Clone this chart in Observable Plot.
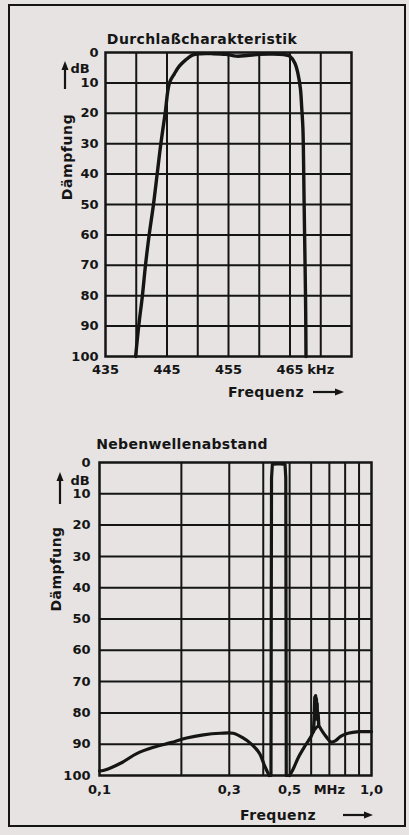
<!DOCTYPE html>
<html><head><meta charset="utf-8">
<script src="https://cdn.jsdelivr.net/npm/d3@7"></script>
<script src="https://cdn.jsdelivr.net/npm/@observablehq/plot@0.6"></script>
<style>
html,body{margin:0;padding:0;background:#e6e3e2;}
#page{position:relative;width:409px;height:835px;overflow:hidden;font-family:"DejaVu Sans",sans-serif;font-weight:bold;color:#151515;}
#border{position:absolute;left:8px;top:4px;width:398px;height:823px;border:2.5px solid #151515;box-sizing:border-box;}
.t{position:absolute;white-space:nowrap;line-height:1;transform:translate(-50%,-50%);}
.plot{position:absolute;left:0;}
svg.deco{position:absolute;left:0;top:0;overflow:visible;}
</style>
</head><body>
<div id="page">
<div id="border"></div>
</div>
<script>
// ---------- Data: Durchlaßcharakteristik (top) ----------
const topFreq = [439.9, 440.4, 441.0, 441.5, 442.1, 442.8, 443.4, 444.0, 444.7, 445.4, 446.2, 447.0, 448.0, 449.2, 450.5, 452.5, 454.5, 456.3, 458.0, 460.0, 462.0, 464.0, 465.0, 465.8, 466.3, 466.7, 466.9, 467.1, 467.2, 467.3, 467.45, 467.55, 467.6];
const topDb   = [100,   90,    80,    70,    60,    50,    40,    30,    20,    10,    7,     4.5,   2.5,   0.8,   0.4,   0.4,   0.6,   1.2,   1.0,   0.6,   0.5,   0.7,   1.3,   3.5,   7,     12,    18,    25,    35,    50,    70,    85,    100];
const topXGrid = [440, 445, 450, 455, 460, 465, 470];
const topXTicks = [435, 445, 455, 465, 470];
const topXLabels = ["435", "445", "455", "465", "kHz"];

// ---------- Data: Nebenwellenabstand (bottom) ----------
const lowFreq = [0.1, 0.104, 0.12, 0.137, 0.158, 0.183, 0.209, 0.241, 0.278, 0.31, 0.337, 0.36, 0.388, 0.404, 0.415, 0.42];
const lowDb   = [98.5, 98.3, 96,  93,    91,    89.5,  88,    87,    86.5,  86.5, 88,    89.8, 93,    96.8,  99,    100];
const spikeFreq = [0.427, 0.428, 0.429, 0.432, 0.455, 0.481, 0.484, 0.485, 0.486, 0.5];
const spikeDb   = [100,   50,    5,     0.6,   0.4,   0.6,   5,     50,    100,   100];
const highFreq = [0.5, 0.515, 0.54, 0.57, 0.6, 0.615, 0.64, 0.655, 0.68, 0.71, 0.74, 0.77, 0.82, 0.9, 1.0];
const highDb   = [100, 98,    94,   90.5, 87.5, 85.5, 84.2, 85.5,  87.5, 89.3, 88.8, 87.5, 86.5, 86,  86];
const spurFreq = [0.612, 0.616, 0.619, 0.621, 0.623, 0.625, 0.627, 0.629, 0.631, 0.633, 0.636, 0.64];
const spurDb   = [86,    81,    75,    82,    74.5,  80,    75.5,  81,    77,    82,    80,    84.2];
const botXGrid = [0.2, 0.3, 0.4, 0.5, 0.6, 0.7, 0.8, 0.9];
const botXTicks = [0.1, 0.3, 0.5, 0.7, 1.0];
const botXLabels = ["0,1", "0,3", "0,5", "MHz", "1,0"];

// ---------- Shared ----------
const yGrid = [10, 20, 30, 40, 50, 60, 70, 80, 90];
const yTicks = [0, 10, 20, 30, 40, 50, 60, 70, 80, 90, 100];

const INK = "#151515";
const pts = (xs, ys) => xs.map((x, i) => ({x, y: ys[i]}));
const tickRows = (vals, labs) => vals.map((v, i) => ({x: v, label: labs[i]}));

const page = document.getElementById("page");
function place(el, top) {
  el.classList.add("plot");
  el.style.top = top + "px";
  page.appendChild(el);
}
const baseStyle = {background: "transparent", fontFamily: "DejaVu Sans", fontWeight: "bold", fontSize: "13px", color: INK};

// Top plot
const p1 = Plot.plot({
  width: 409, height: 400,
  marginTop: 52, marginBottom: 44, marginLeft: 105, marginRight: 58,
  style: baseStyle,
  x: {domain: [435, 475], label: null, axis: null},
  y: {domain: [0, 100], reverse: true, label: null},
  marks: [
    Plot.ruleX(topXGrid, {stroke: INK, strokeWidth: 2}),
    Plot.ruleY(yGrid, {stroke: INK, strokeWidth: 2}),
    Plot.frame({stroke: INK, strokeWidth: 2.5}),
    Plot.axisY(yTicks, {tickSize: 0, tickPadding: 7, tickFormat: d => String(d), label: null}),
    Plot.text(tickRows(topXTicks, topXLabels), {x: "x", text: "label", frameAnchor: "bottom", dy: 17, fill: INK, fontSize: 13, fontWeight: "bold"}),
    Plot.line(pts(topFreq, topDb), {x: "x", y: "y", curve: "catmull-rom", stroke: INK, strokeWidth: 3.4})
  ]
});
place(p1, 0);

// Bottom plot
const p2 = Plot.plot({
  width: 409, height: 400,
  marginTop: 42, marginBottom: 45, marginLeft: 99, marginRight: 38,
  style: baseStyle,
  x: {type: "log", domain: [0.1, 1], label: null, axis: null},
  y: {domain: [0, 100], reverse: true, label: null},
  marks: [
    Plot.ruleX(botXGrid, {stroke: INK, strokeWidth: 2}),
    Plot.ruleY(yGrid, {stroke: INK, strokeWidth: 2}),
    Plot.frame({stroke: INK, strokeWidth: 2.5}),
    Plot.axisY(yTicks, {tickSize: 0, tickPadding: 9, tickFormat: d => String(d), label: null}),
    Plot.text(tickRows(botXTicks, botXLabels), {x: "x", text: "label", frameAnchor: "bottom", dy: 18, fill: INK, fontSize: 13, fontWeight: "bold"}),
    Plot.line(pts(lowFreq, lowDb), {x: "x", y: "y", curve: "catmull-rom", stroke: INK, strokeWidth: 3.2}),
    Plot.line(pts(spikeFreq, spikeDb), {x: "x", y: "y", stroke: INK, strokeWidth: 3.2, strokeLinejoin: "round"}),
    Plot.line(pts(highFreq, highDb), {x: "x", y: "y", curve: "catmull-rom", stroke: INK, strokeWidth: 3.2}),
    Plot.line(pts(spurFreq, spurDb), {x: "x", y: "y", stroke: INK, strokeWidth: 3.4, strokeLinejoin: "round"})
  ]
});
place(p2, 420);

// Text labels
function text(str, x, y, size, extra) {
  const d = document.createElement("div");
  d.className = "t";
  d.textContent = str;
  d.style.left = x + "px";
  d.style.top = y + "px";
  d.style.fontSize = size + "px";
  if (extra) Object.assign(d.style, extra);
  page.appendChild(d);
  return d;
}
text("Durchlaßcharakteristik", 202, 39, 14, {letterSpacing: "0.4px"});
text("Nebenwellenabstand", 182, 444, 14, {letterSpacing: "0.3px"});
text("dB", 80, 68, 13);
text("dB", 80, 480, 13);
text("Dämpfung", 67, 157, 14, {transform: "translate(-50%,-50%) rotate(-90deg)", letterSpacing: "0.6px"});
text("Dämpfung", 56, 569, 14, {transform: "translate(-50%,-50%) rotate(-90deg)", letterSpacing: "0.4px"});
text("Frequenz", 266, 392, 14, {letterSpacing: "0.4px"});
text("Frequenz", 278, 815, 14, {letterSpacing: "0.4px"});

// Arrows (decoration)
const ns = "http://www.w3.org/2000/svg";
const deco = document.createElementNS(ns, "svg");
deco.setAttribute("class", "deco");
deco.setAttribute("width", 409);
deco.setAttribute("height", 835);
function arrow(x1, y1, x2, y2) {
  const L = Math.hypot(x2 - x1, y2 - y1), ux = (x2 - x1) / L, uy = (y2 - y1) / L;
  const hl = 9, hw = 3.5;
  const bx = x2 - ux * hl, by = y2 - uy * hl;
  const line = document.createElementNS(ns, "line");
  line.setAttribute("x1", x1); line.setAttribute("y1", y1);
  line.setAttribute("x2", bx); line.setAttribute("y2", by);
  line.setAttribute("stroke", INK); line.setAttribute("stroke-width", 2.2);
  deco.appendChild(line);
  const head = document.createElementNS(ns, "path");
  head.setAttribute("d", `M${x2},${y2} L${bx - uy * hw},${by + ux * hw} L${bx + uy * hw},${by - ux * hw} Z`);
  head.setAttribute("fill", INK);
  deco.appendChild(head);
}
arrow(65, 89, 65, 61);
arrow(60, 504, 60, 472);
arrow(313, 392, 344, 392);
arrow(343, 815, 373, 815);
page.appendChild(deco);
</script>
</body></html>
